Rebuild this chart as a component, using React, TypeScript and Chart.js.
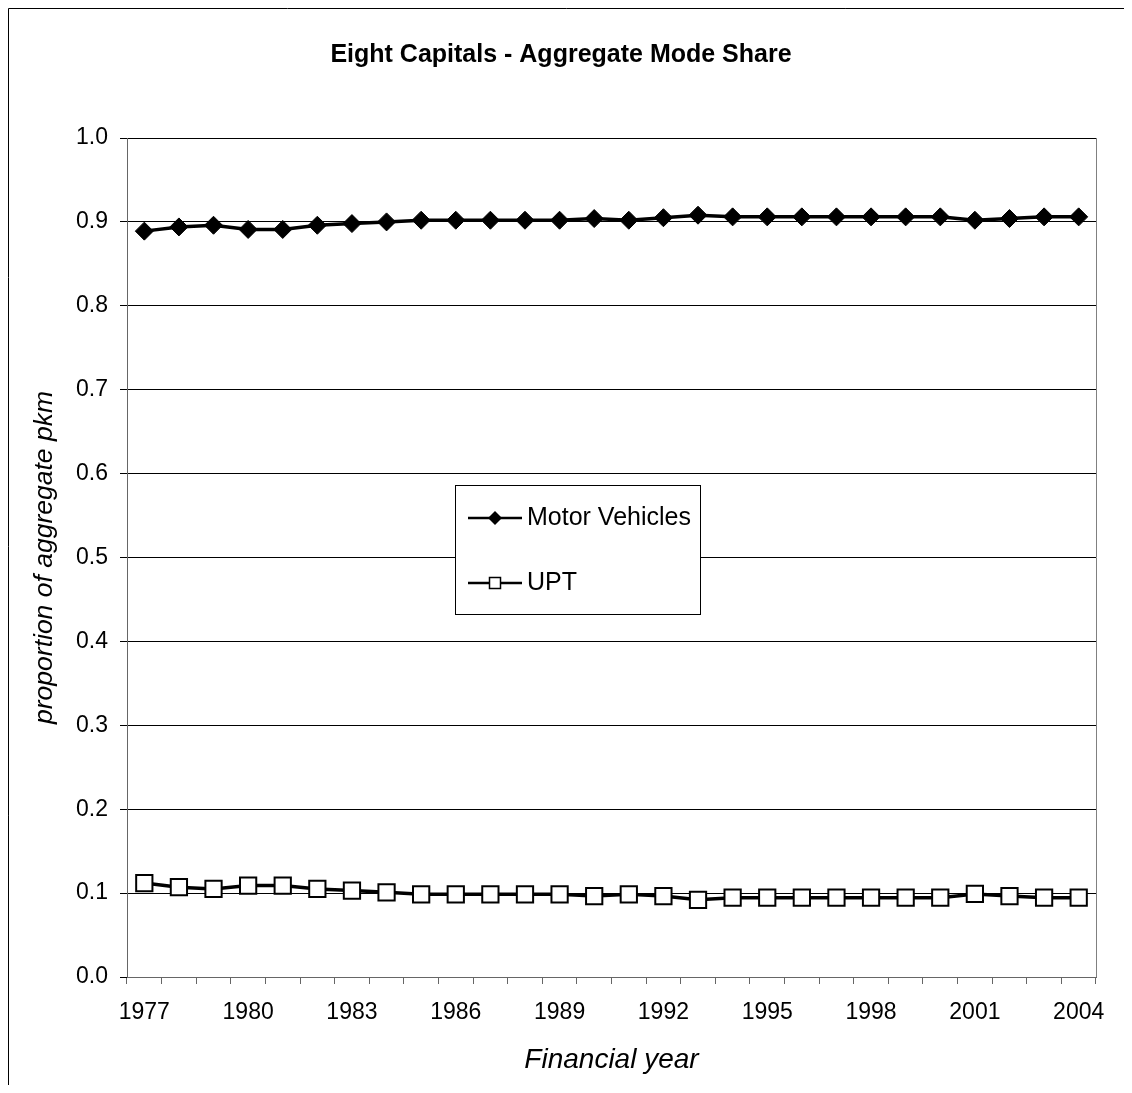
import React, { useEffect, useRef } from 'react';
import { Chart, registerables } from 'chart.js';

Chart.register(...registerables);

const years = [1977, 1978, 1979, 1980, 1981, 1982, 1983, 1984, 1985, 1986, 1987, 1988, 1989, 1990, 1991, 1992, 1993, 1994, 1995, 1996, 1997, 1998, 1999, 2000, 2001, 2002, 2003, 2004];
const tickYears = [1977, 1980, 1983, 1986, 1989, 1992, 1995, 1998, 2001, 2004];
const motorVehicles = [0.889, 0.894, 0.896, 0.891, 0.891, 0.896, 0.898, 0.9, 0.902, 0.902, 0.902, 0.902, 0.902, 0.904, 0.902, 0.905, 0.908, 0.906, 0.906, 0.906, 0.906, 0.906, 0.906, 0.906, 0.902, 0.904, 0.906, 0.906];
const upt = [0.112, 0.107, 0.105, 0.109, 0.109, 0.105, 0.103, 0.101, 0.0985, 0.0985, 0.0985, 0.0985, 0.0985, 0.0965, 0.0985, 0.0965, 0.092, 0.0945, 0.0945, 0.0945, 0.0945, 0.0945, 0.0945, 0.0945, 0.099, 0.0965, 0.0945, 0.0945];

const FONT = 'Liberation Sans, Arial, sans-serif';

const framePlugin = {
  id: 'frame',
  afterLayout(chart: any) {
    if (chart.titleBlock) {
      chart.titleBlock.left = 0;
      chart.titleBlock.right = 1106;
    }
  },
  beforeDatasetsDraw(chart: any) {
    const { ctx, chartArea } = chart;
    ctx.save();
    ctx.strokeStyle = '#808080';
    ctx.lineWidth = 1;
    ctx.beginPath();
    ctx.moveTo(Math.round(chartArea.right) + 0.5, chartArea.top);
    ctx.lineTo(Math.round(chartArea.right) + 0.5, chartArea.bottom);
    ctx.stroke();
    ctx.strokeStyle = '#000';
    ctx.beginPath();
    ctx.moveTo(0.5, chart.height);
    ctx.lineTo(0.5, 0.5);
    ctx.lineTo(chart.width, 0.5);
    ctx.stroke();
    ctx.restore();
  },
};

const legendPlugin = {
  id: 'boxLegend',
  afterDraw(chart: any) {
    const { ctx } = chart;
    const bx = 447, by = 477, bw = 245, bh = 129;
    ctx.save();
    ctx.fillStyle = '#fff';
    ctx.fillRect(bx, by, bw, bh);
    ctx.strokeStyle = '#000';
    ctx.lineWidth = 1;
    ctx.strokeRect(bx + 0.5, by + 0.5, bw, bh);
    const rows = [510, 575];
    chart.data.datasets.forEach((ds: any, i: number) => {
      const y = rows[i];
      ctx.strokeStyle = '#000';
      ctx.lineWidth = 2.5;
      ctx.beginPath();
      ctx.moveTo(460, y);
      ctx.lineTo(514, y);
      ctx.stroke();
      const cx = 487;
      if (ds.pointStyle === 'rectRot') {
        const r = 7;
        ctx.fillStyle = '#000';
        ctx.beginPath();
        ctx.moveTo(cx - r, y);
        ctx.lineTo(cx, y - r);
        ctx.lineTo(cx + r, y);
        ctx.lineTo(cx, y + r);
        ctx.closePath();
        ctx.fill();
      } else {
        const s = 5.5;
        ctx.fillStyle = '#fff';
        ctx.fillRect(cx - s, y - s, 2 * s, 2 * s);
        ctx.lineWidth = 1.5;
        ctx.strokeRect(cx - s, y - s, 2 * s, 2 * s);
      }
      ctx.fillStyle = '#000';
      ctx.font = `25px ${FONT}`;
      ctx.textBaseline = 'middle';
      ctx.textAlign = 'left';
      ctx.fillText(ds.label, 519, y);
    });
    ctx.restore();
  },
};

export default function App() {
  const ref = useRef<HTMLCanvasElement>(null);
  useEffect(() => {
    if (!ref.current) return;
    Chart.defaults.font.family = FONT;
    Chart.defaults.color = '#000';
    const chart = new Chart(ref.current, {
      type: 'line',
      data: {
        labels: years.map(String),
        datasets: [
          {
            label: 'Motor Vehicles',
            data: motorVehicles,
            borderColor: '#000',
            borderWidth: 3.5,
            pointStyle: 'rectRot',
            pointRadius: 9,
            pointBackgroundColor: '#000',
            pointBorderColor: '#000',
            pointBorderWidth: 1,
            tension: 0,
          },
          {
            label: 'UPT',
            data: upt,
            borderColor: '#000',
            borderWidth: 3.5,
            pointStyle: 'rect',
            pointRadius: 11.5,
            pointBackgroundColor: '#fff',
            pointBorderColor: '#000',
            pointBorderWidth: 2,
            tension: 0,
          },
        ],
      },
      options: {
        responsive: false,
        animation: false,
        layout: { padding: { left: 0, right: 28, top: 0, bottom: 0 } },
        plugins: {
          legend: { display: false },
          tooltip: { enabled: false },
          title: {
            display: true,
            text: 'Eight Capitals - Aggregate Mode Share',
            color: '#000',
            font: { size: 25, weight: 'bold', family: FONT, lineHeight: 1.2 },
            padding: { top: 32, bottom: 68 },
          },
        },
        scales: {
          x: {
            type: 'category',
            offset: true,
            afterFit: (s: any) => { s.height = 108; },
            grid: {
              offset: true,
              drawOnChartArea: false,
              drawTicks: true,
              tickLength: 7,
              tickColor: '#666',
            },
            border: { color: '#666', width: 1 },
            ticks: {
              autoSkip: false,
              maxRotation: 0,
              minRotation: 0,
              padding: 14.5,
              color: '#000',
              font: { size: 23, family: FONT },
              callback: (_v: any, i: number) => (tickYears.includes(years[i]) ? String(years[i]) : ''),
            },
            title: {
              display: true,
              text: 'Financial year',
              color: '#000',
              font: { size: 28, style: 'italic', family: FONT, lineHeight: 1.2 },
              padding: { top: 0, bottom: 8.2 },
            },
          },
          y: {
            min: 0,
            max: 1,
            afterFit: (s: any) => { s.width = 119; },
            grid: {
              color: '#000',
              lineWidth: 1,
              drawTicks: true,
              tickLength: 7,
              tickColor: '#000',
            },
            border: { color: '#666', width: 1 },
            ticks: {
              stepSize: 0.1,
              padding: 12,
              color: '#000',
              font: { size: 23, family: FONT },
              callback: (v: any) => Number(v).toFixed(1),
            },
            title: {
              display: true,
              text: 'proportion of aggregate pkm',
              color: '#000',
              font: { size: 26.5, style: 'italic', family: FONT, lineHeight: 1.2 },
              padding: { top: 21, bottom: 0 },
            },
          },
        },
      },
      plugins: [framePlugin, legendPlugin],
    });
    return () => chart.destroy();
  }, []);
  return <canvas ref={ref} width={1116} height={1077} style={{ display: 'block' }} />;
}
